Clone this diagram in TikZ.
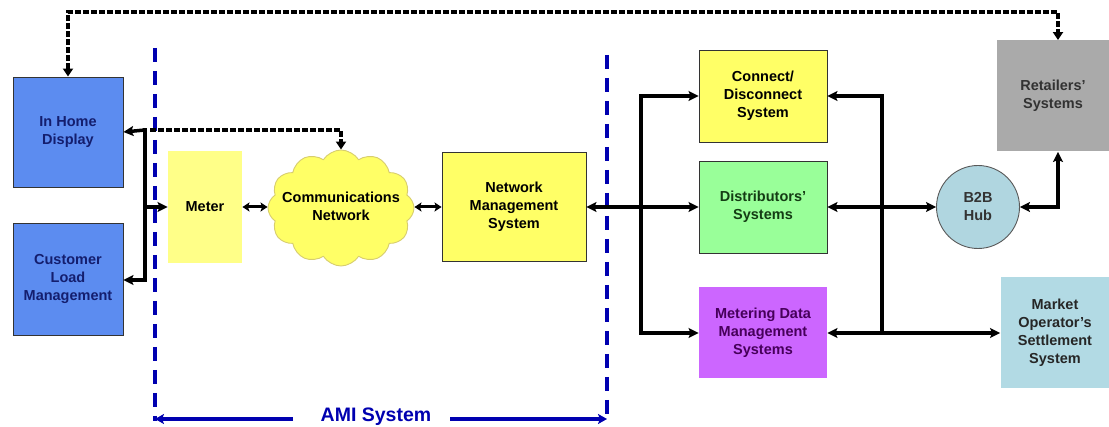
\documentclass[tikz,border=0pt]{standalone}
\usepackage{fontspec}
\setmainfont{Liberation Sans}
\usetikzlibrary{arrows.meta,shapes.symbols,shapes.geometric}
\definecolor{ihdblue}{RGB}{92,140,240}
\definecolor{navytxt}{RGB}{20,30,110}
\definecolor{paleyel}{RGB}{255,255,136}
\definecolor{yel}{RGB}{255,255,102}
\definecolor{cloudedge}{RGB}{215,205,110}
\definecolor{grn}{RGB}{153,255,153}
\definecolor{grntxt}{RGB}{20,60,20}
\definecolor{purp}{RGB}{204,102,255}
\definecolor{purptxt}{RGB}{70,0,90}
\definecolor{gry}{RGB}{170,170,170}
\definecolor{grytxt}{RGB}{50,50,50}
\definecolor{ltblue}{RGB}{178,218,228}
\definecolor{hubblue}{RGB}{176,214,224}
\definecolor{amiblue}{RGB}{0,0,176}
\begin{document}
\begin{tikzpicture}[x=1pt,y=-1pt,
  box/.style={rectangle, inner sep=0pt, align=center,
    font=\fontsize{14.5}{18}\selectfont\bfseries, draw=black!80, line width=0.9pt},
  nobord/.style={draw=none},
  conn/.style={line width=3.5pt, black},
  tipb/.style={{Stealth[length=10pt,width=10pt,inset=2pt]}-{Stealth[length=10pt,width=10pt,inset=2pt]}},
  tipe/.style={-{Stealth[length=10pt,width=10pt,inset=2pt]}},
  tips/.style={line width=3pt,{Stealth[length=7pt,width=9pt,inset=1.5pt]}-{Stealth[length=7pt,width=9pt,inset=1.5pt]}},
  dotl/.style={line width=3.5pt, black, dash pattern=on 6pt off 2pt},
  tipd/.style={-{Triangle[length=8pt,width=10pt]}},
  tipdd/.style={{Triangle[length=8pt,width=10pt]}-{Triangle[length=8pt,width=10pt]}},
  amil/.style={line width=4pt, amiblue, dash pattern=on 14pt off 9pt},
  amia/.style={line width=4pt, amiblue, -{Stealth[length=9pt,width=10pt,inset=2pt]}}
]
\useasboundingbox (0,0) rectangle (1109,427);

% nodes
\node[box, fill=ihdblue, text=navytxt, minimum width=110pt, minimum height=110pt] (ihd) at (68,132) {In Home\\Display};
\node[box, fill=ihdblue, text=navytxt, minimum width=110pt, minimum height=112pt] (clm) at (68,279) {Customer\\Load\\Management};
\node[box, nobord, fill=paleyel, minimum width=74pt, minimum height=112pt] (meter) at (205,207) {Meter};
\node[cloud, cloud puffs=12, cloud puff arc=115, cloud ignores aspect, draw=cloudedge, fill=yel, line width=0.9pt,
      inner sep=0pt, minimum width=146pt, minimum height=116pt] (cloud) at (341,208) {};
\node[box, draw=none, fill=none] (cloudtxt) at (341,206) {Communications\\Network};
\node[box, fill=yel, minimum width=144pt, minimum height=109pt] (nms) at (514,207) {Network\\Management\\System};
\node[box, fill=yel, minimum width=128pt, minimum height=92pt] (cd) at (763,96) {Connect/\\Disconnect\\System};
\node[box, fill=grn, text=grntxt, minimum width=128pt, minimum height=92pt] (dist) at (763,207) {Distributors’\\Systems};
\node[box, nobord, fill=purp, text=purptxt, minimum width=128pt, minimum height=91pt] (mdm) at (763,333) {Metering Data\\Management\\Systems};
\node[box, nobord, fill=gry, text=grytxt, minimum width=112pt, minimum height=111pt] (ret) at (1053,96) {Retailers’\\Systems};
\node[box, nobord, fill=ltblue, text=black!85, minimum width=109pt, minimum height=111pt] (mkt) at (1055,333) {Market\\Operator’s\\Settlement\\System};
\node[box, circle, fill=hubblue, draw=black!65, minimum size=83pt, text=black!80] (hub) at (978,207) {B2B\\Hub};

% coordinates
\coordinate (lt) at (145,130);
\coordinate (lb) at (145,280);
\coordinate (lm) at (145,207);
\coordinate (b1t) at (641,96);
\coordinate (b1b) at (641,333);
\coordinate (b2t) at (882,96);
\coordinate (b2b) at (882,333);
\coordinate (hr) at (1058,207);
\coordinate (top) at (68,12);
\coordinate (dend) at (150,130);
\coordinate (aL) at (155,48);
\coordinate (aLb) at (155,421);
\coordinate (aR) at (607,55);
\coordinate (aRb) at (607,421);
\coordinate (am1) at (293,419);
\coordinate (am2) at (450,419);

% AMI boundary
\draw[amil] (aL) -- (aLb);
\draw[amil] (aR) -- (aRb);
\draw[amia] (am1) -- (155,419);
\draw[amia] (am2) -- (607,419);
\node[font=\fontsize{19.5}{22}\selectfont\bfseries, text=amiblue, inner sep=0pt] (ami) at (376,417) {AMI System};

% left connectors
\draw[conn, line cap=rect] (lt) -- (lb);
\draw[conn, tipe] (lt) -- (ihd.east);
\draw[conn, tipe] (lb) -- (clm.east |- lb);
\draw[conn, tipe] (lm) -- (meter.west);
\draw[tips] (meter.east) -- (cloud.west |- meter.east);
\draw[tips] (cloud.east |- nms.west) -- (nms.west);

% dotted
\draw[dotl, tipd] (dend) -| (cloud.north);
\draw[dotl, tipdd] (ihd.north) -- (top) -| ([xshift=5pt]ret.north);

% bus 1
\draw[conn, line cap=rect] (b1t) -- (b1b);
\draw[conn, tipb] (nms.east) -- (dist.west);
\draw[conn, tipe] (b1t) -- (cd.west);
\draw[conn, tipe] (b1b) -- (mdm.west);

% bus 2
\draw[conn, line cap=rect] (b2t) -- (b2b);
\draw[conn, tipe] (b2t) -- (cd.east);
\draw[conn, tipb] (dist.east) -- (hub.west);
\draw[conn, tipb] (mdm.east) -- (mkt.west);
\draw[conn, tipb] (hub.east) -- (hr) -- ([xshift=5pt]ret.south);
\end{tikzpicture}
\end{document}
